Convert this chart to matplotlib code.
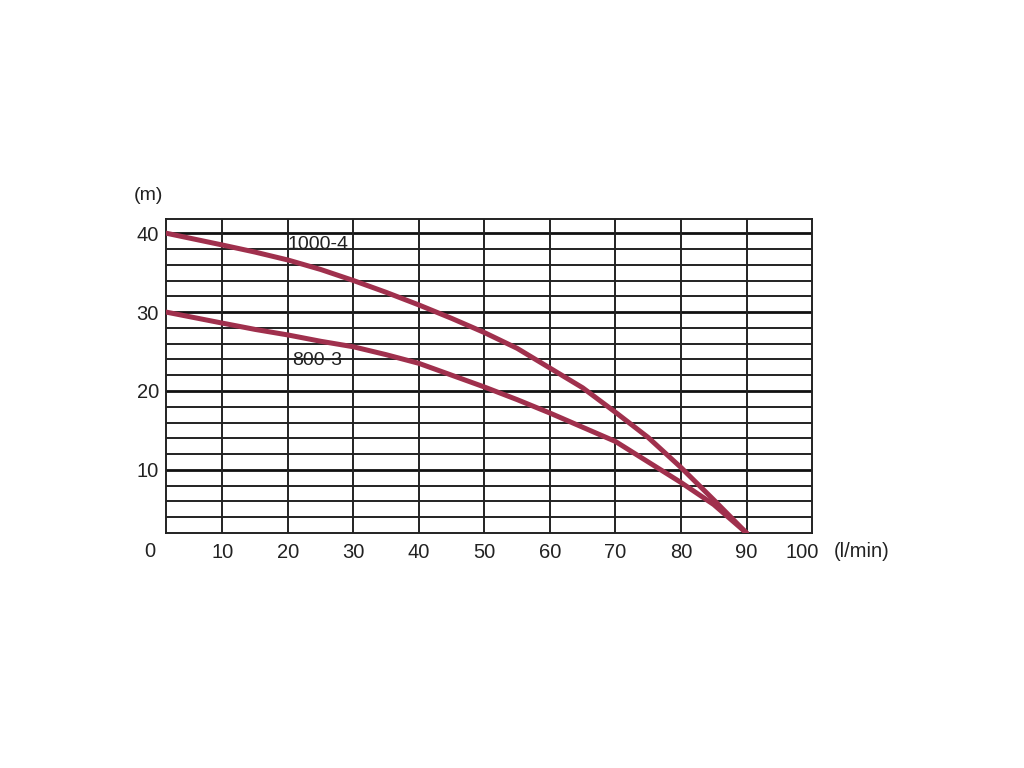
import numpy as np
import matplotlib.pyplot as plt
import matplotlib.transforms as mtransforms

plt.rcParams['font.family'] = ['Liberation Sans', 'DejaVu Sans']

# flow (l/min) and head (m)
flow = [1.4, 10, 15, 20, 25, 30, 35, 40, 45, 50, 55, 60, 65, 70, 75, 80, 85, 90]
head_1000_4 = [40.0, 38.5, 37.6, 36.6, 35.4, 34.0, 32.5, 30.9, 29.2, 27.4,
               25.4, 22.9, 20.4, 17.3, 14.1, 10.3, 6.2, 2.0]
head_800_3 = [30.0, 28.6, 27.8, 27.1, 26.3, 25.6, 24.6, 23.5, 22.0, 20.5,
              18.9, 17.2, 15.4, 13.6, 11.0, 8.4, 5.6, 2.0]

x_ticks = [10, 20, 30, 40, 50, 60, 70, 80, 90, 100]
y_ticks = [10, 20, 30, 40]
minor_y = [4, 6, 8, 12, 14, 16, 18, 22, 24, 26, 28, 32, 34, 36, 38]

curve_color = '#a0304d'
text_color = '#222222'

fig = plt.figure(figsize=(10.24, 7.68), dpi=100)
ax = fig.add_axes([0.1621, 0.306, 0.6309, 0.4089])
ax.set_xlim(1.4, 100)
ax.set_ylim(2.0, 41.8)

# grid drawn by hand so major/minor weights match the chart
for y in minor_y:
    ax.axhline(y, color='#222222', linewidth=1.4, zorder=1)
for y in y_ticks:
    ax.axhline(y, color='#111111', linewidth=2.0, zorder=1)
for x in x_ticks[:-1]:
    ax.axvline(x, color='#222222', linewidth=1.4, zorder=1)
for spine in ax.spines.values():
    spine.set_linewidth(1.4)
    spine.set_color('#222222')

ax.plot(flow, head_1000_4, color=curve_color, linewidth=3.6,
        solid_capstyle='round', solid_joinstyle='round', zorder=3)
ax.plot(flow, head_800_3, color=curve_color, linewidth=3.6,
        solid_capstyle='round', solid_joinstyle='round', zorder=3)

ax.text(24.6, 38.6, '1000-4', fontsize=14, ha='center', va='center',
        color=text_color, zorder=4)
ax.text(24.4, 23.8, '800-3', fontsize=14, ha='center', va='center',
        color=text_color, zorder=4)

ax.set_xticks(x_ticks)
ax.set_xticklabels([str(v) for v in x_ticks])
ax.set_yticks(y_ticks)
ax.set_yticklabels([str(v) for v in y_ticks])
ax.tick_params(length=0, labelsize=14.5, colors=text_color)
ax.tick_params(axis='y', pad=5)
ax.tick_params(axis='x', pad=7)

# the "100" label sits a little left of the right edge
last = ax.get_xticklabels()[-1]
last.set_transform(last.get_transform() +
                   mtransforms.ScaledTranslation(-10 / 100, 0, fig.dpi_scale_trans))

ax.text(-1.07, -0.3, '0', fontsize=14.5, ha='center', va='center',
        color=text_color, clip_on=False)
ax.text(-1.3, 44.8, '(m)', fontsize=14, ha='center', va='center',
        color=text_color, clip_on=False)
ax.text(107.6, -0.3, '(l/min)', fontsize=14.5, ha='center', va='center',
        color=text_color, clip_on=False)

fig.savefig('out.png', dpi=100)
